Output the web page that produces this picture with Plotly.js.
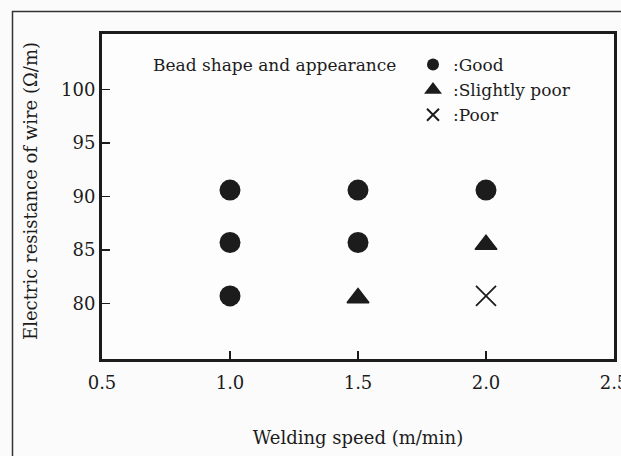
<!DOCTYPE html>
<html>
<head>
<meta charset="utf-8">
<script src="https://cdn.plot.ly/plotly-3.0.1.min.js"></script>
<style>html,body{margin:0;padding:0;background:#fbfbfb;}#chart{width:621px;height:456px;}</style>
</head>
<body>
<div id="chart"></div>
<script>
// Data
const goodSpeed = [1.0, 1.0, 1.0, 1.5, 1.5, 2.0];
const goodResistance = [90.6, 85.7, 80.7, 90.6, 85.7, 90.6];
const slightSpeed = [1.5, 2.0];
const slightResistance = [80.5, 85.5];
const poorSpeed = [2.0];
const poorResistance = [80.7];
const xTickVals = [0.5, 1.0, 1.5, 2.0, 2.5];
const xTickText = ["0.5", "1.0", "1.5", "2.0", "2.5"];
const yTickVals = [80, 85, 90, 95, 100];
const yTickText = ["80", "85", "90", "95", "100"];
const xTitle = 'Welding speed (m/min)';
const yTitle = 'Electric resistance of wire (\u03a9/m)';
const legendHeading = 'Bead shape and appearance';

const ink = '#1c1c1c';
const serif = 'DejaVu Serif, serif';

const traces = [
  {x: goodSpeed, y: goodResistance, type: 'scatter', mode: 'markers', name: ':Good',
   marker: {symbol: 'circle', size: 21, color: ink}},
  {x: slightSpeed, y: slightResistance, type: 'scatter', mode: 'markers', name: ':Slightly poor',
   marker: {symbol: 'triangle-up', size: 19, color: ink, line: {color: ink, width: 1.5}}},
  {x: poorSpeed, y: poorResistance, type: 'scatter', mode: 'markers', name: ':Poor',
   marker: {symbol: 'x-thin-open', size: 20, color: ink, line: {color: ink, width: 1.8}}}
];

const layout = {
  width: 621, height: 456,
  margin: {l: 102, r: 7, t: 34, b: 97},
  paper_bgcolor: '#fbfbfb', plot_bgcolor: '#fdfdfd',
  font: {family: serif, color: ink, size: 18},
  showlegend: true,
  legend: {x: (413 - 102) / 512, xanchor: 'left', y: 1 - (47 - 34) / 325, yanchor: 'top',
           bgcolor: 'rgba(0,0,0,0)', borderwidth: 0, itemsizing: 'constant',
           font: {family: serif, size: 17, color: ink}, tracegroupgap: 0},
  xaxis: {range: [0.5, 2.5], tickvals: xTickVals, ticktext: xTickText, ticks: 'inside', ticklen: 8,
          tickwidth: 1.5, tickcolor: ink, showline: true, mirror: true, linewidth: 3, linecolor: ink,
          showgrid: false, zeroline: false, ticklabeloverflow: 'allow', ticklabelstandoff: 5,
          tickfont: {family: serif, size: 18, color: ink},
          title: {text: xTitle, font: {family: serif, size: 18, color: ink}, standoff: 40}},
  yaxis: {range: [74.8, 105.2], tickvals: yTickVals, ticktext: yTickText, ticks: 'inside', ticklen: 8,
          tickwidth: 1.5, tickcolor: ink, showline: true, mirror: true, linewidth: 3, linecolor: ink,
          showgrid: false, zeroline: false, ticksuffix: '\u2002\u2009',
          tickfont: {family: serif, size: 18, color: ink}},
  annotations: [
    {text: legendHeading, xref: 'paper', yref: 'paper',
     x: (151 - 102) / 512, xanchor: 'left', y: 1 - (65 - 34) / 325, yanchor: 'middle',
     showarrow: false, font: {family: serif, size: 17, color: ink}},
    {text: yTitle, xref: 'paper', yref: 'paper', textangle: -90,
     x: (30 - 102) / 512, xanchor: 'center', y: 1 - (191 - 34) / 325, yanchor: 'middle',
     showarrow: false, font: {family: serif, size: 18, color: ink}}
  ],
  shapes: [
    {type: 'rect', xref: 'paper', yref: 'paper', x0: (12.5 - 102) / 512, x1: 1.5,
     y0: -0.6, y1: 1 + (34 - 11.5) / 325, line: {color: '#333', width: 1.5}, layer: 'below'}
  ]
};

Plotly.newPlot('chart', traces, layout, {displayModeBar: false, staticPlot: true});
</script>
</body>
</html>
